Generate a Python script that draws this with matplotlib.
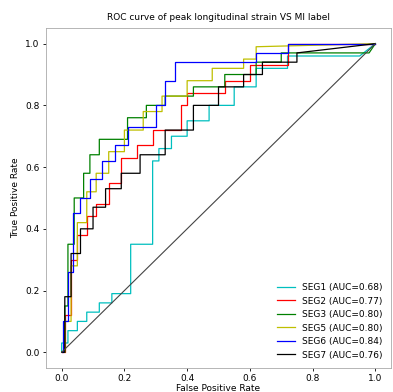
import matplotlib
matplotlib.use("Agg")
import matplotlib.pyplot as plt

title = "ROC curve of peak longitudinal strain VS MI label"
labels = ["SEG1 (AUC=0.68)", "SEG2 (AUC=0.77)", "SEG3 (AUC=0.80)",
          "SEG5 (AUC=0.80)", "SEG6 (AUC=0.84)", "SEG7 (AUC=0.76)"]
colors = ["c", "r", "g", "y", "b", "k"]

seg1_fpr = [0, 0, 0.02, 0.02, 0.05, 0.05, 0.08, 0.08, 0.12, 0.12, 0.16, 0.16, 0.22, 0.22,
            0.29, 0.29, 0.31, 0.31, 0.35, 0.35, 0.40, 0.40, 0.47, 0.47, 0.55, 0.55, 0.62,
            0.62, 0.72, 0.72, 0.95, 1.0]
seg1_tpr = [0, 0.03, 0.03, 0.07, 0.07, 0.10, 0.10, 0.13, 0.13, 0.16, 0.16, 0.19, 0.19, 0.35,
            0.35, 0.62, 0.62, 0.66, 0.66, 0.70, 0.70, 0.75, 0.75, 0.80, 0.80, 0.86, 0.86,
            0.92, 0.92, 0.96, 0.96, 1.0]

seg2_fpr = [0, 0.01, 0.01, 0.03, 0.03, 0.05, 0.05, 0.08, 0.08, 0.11, 0.11, 0.15, 0.15, 0.19,
            0.19, 0.24, 0.24, 0.29, 0.29, 0.38, 0.38, 0.40, 0.40, 0.52, 0.52, 0.60, 0.60,
            0.72, 0.72, 1.0]
seg2_tpr = [0, 0, 0.12, 0.12, 0.30, 0.30, 0.38, 0.38, 0.44, 0.44, 0.48, 0.48, 0.55, 0.55,
            0.63, 0.63, 0.67, 0.67, 0.72, 0.72, 0.80, 0.80, 0.84, 0.84, 0.88, 0.88, 0.93,
            0.93, 1.0, 1.0]

seg3_fpr = [0, 0.01, 0.01, 0.02, 0.02, 0.04, 0.04, 0.07, 0.07, 0.09, 0.09, 0.12, 0.12, 0.21,
            0.21, 0.27, 0.27, 0.33, 0.33, 0.42, 0.42, 0.52, 0.52, 0.62, 0.62, 0.70, 0.70,
            0.98, 1.0]
seg3_tpr = [0, 0, 0.15, 0.15, 0.35, 0.35, 0.50, 0.50, 0.58, 0.58, 0.64, 0.64, 0.69, 0.69,
            0.76, 0.76, 0.80, 0.80, 0.83, 0.83, 0.86, 0.86, 0.90, 0.90, 0.94, 0.94, 0.97,
            0.97, 1.0]

seg5_fpr = [0, 0.01, 0.01, 0.03, 0.03, 0.05, 0.05, 0.08, 0.08, 0.11, 0.11, 0.15, 0.15, 0.20,
            0.20, 0.26, 0.26, 0.32, 0.32, 0.40, 0.40, 0.48, 0.48, 0.58, 0.58, 0.62, 0.62, 1.0]
seg5_tpr = [0, 0, 0.10, 0.10, 0.28, 0.28, 0.42, 0.42, 0.52, 0.52, 0.58, 0.58, 0.65, 0.65,
            0.72, 0.72, 0.78, 0.78, 0.83, 0.83, 0.88, 0.88, 0.92, 0.92, 0.95, 0.95, 0.99, 1.0]

seg6_fpr = [0, 0.005, 0.005, 0.02, 0.02, 0.035, 0.035, 0.06, 0.06, 0.09, 0.09, 0.13, 0.13,
            0.17, 0.17, 0.21, 0.21, 0.30, 0.30, 0.33, 0.33, 0.36, 0.36, 0.62, 0.62, 0.72,
            0.72, 1.0]
seg6_tpr = [0, 0, 0.10, 0.10, 0.26, 0.26, 0.45, 0.45, 0.50, 0.50, 0.56, 0.56, 0.62, 0.62,
            0.67, 0.67, 0.73, 0.73, 0.80, 0.80, 0.88, 0.88, 0.94, 0.94, 0.97, 0.97, 1.0, 1.0]

seg7_fpr = [0, 0.01, 0.01, 0.03, 0.03, 0.06, 0.06, 0.10, 0.10, 0.14, 0.14, 0.19, 0.19, 0.25,
            0.25, 0.33, 0.33, 0.42, 0.42, 0.50, 0.50, 0.58, 0.58, 0.64, 0.64, 0.75, 0.75, 1.0]
seg7_tpr = [0, 0, 0.18, 0.18, 0.32, 0.32, 0.40, 0.40, 0.47, 0.47, 0.53, 0.53, 0.58, 0.58,
            0.64, 0.64, 0.72, 0.72, 0.80, 0.80, 0.86, 0.86, 0.90, 0.90, 0.94, 0.94, 0.97, 1.0]

curves = [(seg1_fpr, seg1_tpr), (seg2_fpr, seg2_tpr), (seg3_fpr, seg3_tpr),
          (seg5_fpr, seg5_tpr), (seg6_fpr, seg6_tpr), (seg7_fpr, seg7_tpr)]

fs = 6.5
fig = plt.figure(figsize=(3.93, 3.92), dpi=100)
# axes placed by hand so the x label just fits under the tick labels
ax = fig.add_axes([0.117, 0.062, 0.878, 0.866])

for (fpr, tpr), color, label in zip(curves, colors, labels):
	ax.plot(fpr, tpr, color=color, lw=0.9, label=label)
ax.plot([0, 1], [0, 1], color="#444444", lw=0.8)

ax.set_title(title, fontsize=fs)
ax.set_xlabel("False Positive Rate", fontsize=fs, labelpad=0.5)
ax.set_ylabel("True Positive Rate", fontsize=fs)
ax.tick_params(labelsize=fs, width=0.6, length=2.5, pad=2)
for spine in ax.spines.values():
	spine.set_color("#aaaaaa")
	spine.set_linewidth(0.6)
ax.legend(loc="lower right", fontsize=fs, frameon=False)

fig.savefig("out.png", dpi=100)
plt.close(fig)
